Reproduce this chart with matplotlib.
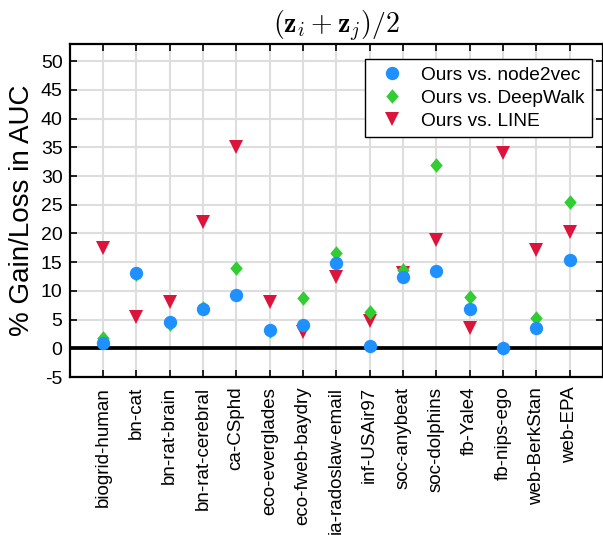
import numpy as np
import matplotlib
matplotlib.use("Agg")
import matplotlib.pyplot as plt
from matplotlib.path import Path

plt.rcParams['font.family'] = ['Liberation Sans', 'DejaVu Sans']
plt.rcParams['mathtext.fontset'] = 'cm'

# ----------- DATA -------------

datasets = ["biogrid-human", "bn-cat", "bn-rat-brain", "bn-rat-cerebral", "ca-CSphd",
            "eco-everglades", "eco-fweb-baydry", "ia-radoslaw-email", "inf-USAir97",
            "soc-anybeat", "soc-dolphins", "fb-Yale4", "fb-nips-ego", "web-BerkStan",
            "web-EPA"]

vs_node2vec = [1.0, 13.2, 4.5, 6.8, 9.2, 3.2, 4.1, 14.8, 0.4, 12.5, 13.4, 6.9, 0.1, 3.6, 15.3]
vs_deepwalk = [1.8, 13.0, 4.2, 7.0, 13.9, 3.0, 8.7, 16.6, 6.4, 13.6, 31.9, 8.9, 0.0, 5.2, 25.4]
vs_line = [17.5, 5.5, 8.0, 22.0, 35.0, 8.1, 2.9, 12.5, 4.8, 13.2, 18.9, 3.6, 34.1, 17.2, 20.2]

yticks = [-5, 0, 5, 10, 15, 20, 25, 30, 35, 40, 45, 50]
ytick_labels = ["-5", "0", "5", "10", "15", "20", "25", "30", "35", "40", "45", "50"]

# ----------- PLOT -------------

fig = plt.figure(figsize=(6.03, 5.35), dpi=100)
ax = fig.add_axes([0.1153, 0.2953, 0.8847, 0.6225])

xpos = np.arange(1, len(datasets) + 1)

# MATLAB-ish diamond (a bit taller than wide)
diamond = Path([(0, 1), (0.85, 0), (0, -1), (-0.85, 0), (0, 1)],
               [Path.MOVETO, Path.LINETO, Path.LINETO, Path.LINETO, Path.CLOSEPOLY])

h_line, = ax.plot(xpos, vs_line, linestyle='none', marker='v', markersize=10,
                  color='#dc143c', markeredgewidth=0, zorder=3, label='Ours vs. LINE')
h_dw, = ax.plot(xpos, vs_deepwalk, linestyle='none', marker=diamond, markersize=10.5,
                color='#32cd32', markeredgewidth=0, zorder=4, label='Ours vs. DeepWalk')
h_n2v, = ax.plot(xpos, vs_node2vec, linestyle='none', marker='o', markersize=9.6,
                 color='#1e90ff', markeredgewidth=0, zorder=5, label='Ours vs. node2vec')

ax.axhline(0, color='black', linewidth=2.7, zorder=2)

ax.set_xlim(0, len(datasets) + 1)
ax.set_ylim(-5, 53)
ax.set_xticks(xpos)
ax.set_xticklabels(datasets, rotation=90, fontsize=13.5)
ax.set_yticks(yticks)
ax.set_yticklabels(ytick_labels, fontsize=14)

ax.grid(True, color='#dedede', linewidth=1.5, zorder=0)
ax.set_axisbelow(True)

ax.tick_params(direction='in', top=True, right=True, length=5, width=1.2, pad=5)
ax.tick_params(axis='x', pad=7)
for spine in ax.spines.values():
    spine.set_linewidth(1.6)

ax.set_ylabel('% Gain/Loss in AUC', fontsize=20, labelpad=4)
ax.set_title(r'$(\mathbf{z}_i + \mathbf{z}_j)/2$', fontsize=20, pad=8)

leg = ax.legend(handles=[h_n2v, h_dw, h_line], loc='upper right',
                bbox_to_anchor=(0.979, 0.955), borderaxespad=0, fontsize=13.8,
                fancybox=False, framealpha=1, edgecolor='black',
                handletextpad=0.5, labelspacing=0.28, handlelength=2.0)
leg.get_frame().set_linewidth(1.0)

plt.savefig('out.png', dpi=100)
